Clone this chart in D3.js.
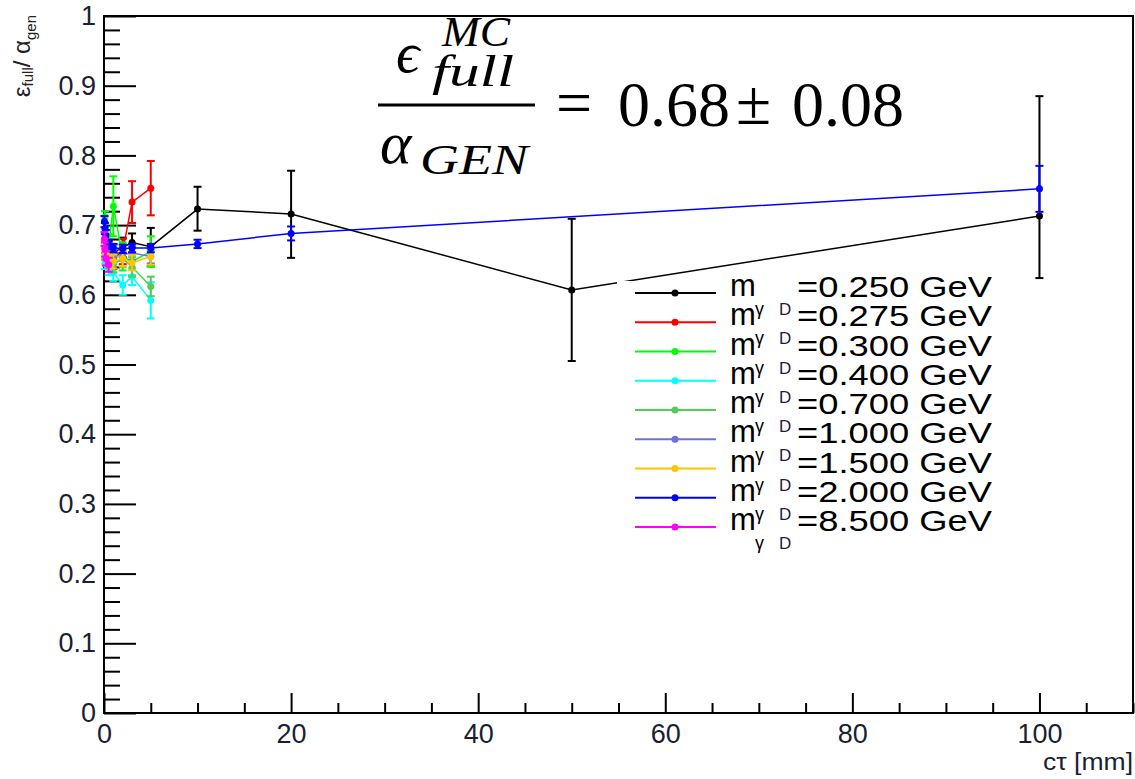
<!DOCTYPE html>
<html>
<head>
<meta charset="utf-8">
<script src="https://cdn.jsdelivr.net/npm/d3@7"></script>
<style>
  body { margin: 0; background: #fff; }
  svg { display: block; }
</style>
</head>
<body>
<svg id="chart" width="1135" height="779"></svg>
<script>
// dark photon mass points (GeV) shown in the legend
const masses = ["0.250", "0.275", "0.300", "0.400", "0.700", "1.000", "1.500", "2.000", "8.500"];
const colors = ["#000000", "#ff0000", "#00ff00", "#00ffff", "#55cc55", "#6f6fdf", "#ffc400", "#0000ff", "#ff00ff"];

// c*tau (mm), eff ratio and errors for each mass
const ctau_0250 = [0.5, 1, 2, 3, 5, 10, 20, 50, 100];
const eff_0250 = [0.665, 0.66, 0.668, 0.675, 0.669, 0.723, 0.716, 0.607, 0.713];
const errLo_0250 = [0.012, 0.013, 0.014, 0.015, 0.028, 0.031, 0.063, 0.102, 0.089];
const errHi_0250 = [0.012, 0.013, 0.014, 0.013, 0.027, 0.032, 0.062, 0.102, 0.172];

const ctau_0275 = [0.5, 1, 2, 3, 5];
const eff_0275 = [0.66, 0.652, 0.662, 0.733, 0.753];
const err_0275 = [0.014, 0.015, 0.018, 0.03, 0.039];

const ctau_0300 = [0.1, 0.5, 1, 2, 3, 5];
const eff_0300 = [0.712, 0.672, 0.727, 0.655, 0.648, 0.662];
const err_0300 = [0.008, 0.015, 0.043, 0.02, 0.02, 0.022];

const ctau_0400 = [0.1, 0.5, 1, 2, 3, 5];
const eff_0400 = [0.645, 0.638, 0.632, 0.614, 0.626, 0.592];
const err_0400 = [0.008, 0.01, 0.012, 0.014, 0.012, 0.026];

const ctau_0700 = [0.1, 0.5, 1, 2, 3, 5];
const eff_0700 = [0.66, 0.648, 0.644, 0.652, 0.64, 0.612];
const err_0700 = [0.01, 0.01, 0.012, 0.012, 0.014, 0.014];

const ctau_1000 = [0.1, 0.5, 1, 2, 3, 5];
const eff_1000 = [0.668, 0.66, 0.662, 0.658, 0.66, 0.655];
const err_1000 = [0.008, 0.008, 0.009, 0.009, 0.01, 0.01];

const ctau_1500 = [0.1, 0.5, 1, 2, 3, 5];
const eff_1500 = [0.662, 0.655, 0.648, 0.652, 0.646, 0.655];
const err_1500 = [0.01, 0.01, 0.01, 0.011, 0.011, 0.012];

const ctau_2000 = [0.05, 0.1, 0.2, 0.5, 1, 2, 3, 5, 10, 20, 100];
const eff_2000 = [0.705, 0.695, 0.685, 0.672, 0.667, 0.666, 0.667, 0.667, 0.673, 0.688, 0.752];
const err_2000 = [0.008, 0.008, 0.008, 0.007, 0.006, 0.006, 0.006, 0.006, 0.006, 0.01, 0.033];

const ctau_8500 = [0.05, 0.1, 0.2, 0.5];
const eff_8500 = [0.68, 0.665, 0.652, 0.643];
const err_8500 = [0.01, 0.01, 0.01, 0.01];

const yTickLabels = ["0", "0.1", "0.2", "0.3", "0.4", "0.5", "0.6", "0.7", "0.8", "0.9", "1"];
const xTickLabels = ["0", "20", "40", "60", "80", "100"];

const series = [
  { x: ctau_0250, y: eff_0250, lo: errLo_0250, hi: errHi_0250 },
  { x: ctau_0275, y: eff_0275, lo: err_0275, hi: err_0275 },
  { x: ctau_0300, y: eff_0300, lo: err_0300, hi: err_0300 },
  { x: ctau_0400, y: eff_0400, lo: err_0400, hi: err_0400 },
  { x: ctau_0700, y: eff_0700, lo: err_0700, hi: err_0700 },
  { x: ctau_1000, y: eff_1000, lo: err_1000, hi: err_1000 },
  { x: ctau_1500, y: eff_1500, lo: err_1500, hi: err_1500 },
  { x: ctau_2000, y: eff_2000, lo: err_2000, hi: err_2000 },
  { x: ctau_8500, y: eff_8500, lo: err_8500, hi: err_8500 },
].map((s, i) => ({
  color: colors[i],
  mass: masses[i],
  points: s.x.map((cx, j) => ({ x: cx, y: s.y[j], lo: s.lo[j], hi: s.hi[j] })),
}));

const svg = d3.select('#chart');
const frameL = 104, frameR = 1133, frameT = 16, frameB = 713;
const sans = 'Liberation Sans, Arial, sans-serif';
const serif = 'Liberation Serif, Times New Roman, serif';

const x = d3.scaleLinear().domain([0, 110]).range([frameL, frameR]);
const y = d3.scaleLinear().domain([0, 1]).range([frameB, frameT]);

// axes, ROOT style: ticks pointing inside the frame
const yMajor = d3.axisLeft(y)
  .tickValues(yTickLabels.map(Number))
  .tickFormat((d, i) => yTickLabels[i])
  .tickSize(-32).tickPadding(8);
const yMinor = d3.axisLeft(y)
  .tickValues(d3.range(0, 1.001, 0.02).filter(v => Math.abs(v * 10 - Math.round(v * 10)) > 1e-6))
  .tickFormat('').tickSize(-16);
const xMajor = d3.axisBottom(x)
  .tickValues(xTickLabels.map(Number))
  .tickFormat((d, i) => xTickLabels[i])
  .tickSize(-20).tickPadding(11);
const xMinor = d3.axisBottom(x)
  .tickValues(d3.range(0, 111, 5).filter(v => v % 20 !== 0))
  .tickFormat('').tickSize(-10);

const gy = svg.append('g').attr('transform', `translate(${frameL},0)`);
gy.call(yMajor);
gy.append('g').call(yMinor);
const gx = svg.append('g').attr('transform', `translate(0,${frameB})`);
gx.call(xMajor);
gx.append('g').call(xMinor);

svg.selectAll('.domain').remove();
svg.selectAll('.tick line').attr('stroke', '#000').attr('stroke-width', 2);
svg.selectAll('.tick text')
  .style('font-family', sans).style('font-size', '27px').attr('fill', '#1a1f33');

// frame
svg.append('rect')
  .attr('x', frameL).attr('y', frameT)
  .attr('width', frameR - frameL).attr('height', frameB - frameT)
  .attr('fill', 'none').attr('stroke', '#000').attr('stroke-width', 2);

// graphs
const line = d3.line().x(d => x(d.x)).y(d => y(d.y));
const graphs = svg.append('g');
series.forEach(s => {
  const g = graphs.append('g');
  g.append('path')
    .datum(s.points)
    .attr('d', line)
    .attr('fill', 'none')
    .attr('stroke', s.color)
    .attr('stroke-width', 1.5);
  const bars = g.selectAll('.err').data(s.points).enter().append('g');
  bars.append('line')
    .attr('x1', d => x(d.x)).attr('x2', d => x(d.x))
    .attr('y1', d => y(d.y - d.lo)).attr('y2', d => y(d.y + d.hi))
    .attr('stroke', s.color).attr('stroke-width', 2);
  bars.append('line')
    .attr('x1', d => x(d.x) - 4).attr('x2', d => x(d.x) + 4)
    .attr('y1', d => y(d.y + d.hi)).attr('y2', d => y(d.y + d.hi))
    .attr('stroke', s.color).attr('stroke-width', 2);
  bars.append('line')
    .attr('x1', d => x(d.x) - 4).attr('x2', d => x(d.x) + 4)
    .attr('y1', d => y(d.y - d.lo)).attr('y2', d => y(d.y - d.lo))
    .attr('stroke', s.color).attr('stroke-width', 2);
  bars.append('circle')
    .attr('cx', d => x(d.x)).attr('cy', d => y(d.y))
    .attr('r', 3.5).attr('fill', s.color);
});

// legend (white box, no border)
const legend = svg.append('g');
legend.append('rect')
  .attr('x', 617).attr('y', 281).attr('width', 385).attr('height', 264)
  .attr('fill', '#fff');
const rowY = i => 293 + i * 29.25;
const rows = legend.selectAll('.row').data(series).enter().append('g');
rows.append('line')
  .attr('x1', 635).attr('x2', 716)
  .attr('y1', (d, i) => rowY(i)).attr('y2', (d, i) => rowY(i))
  .attr('stroke', d => d.color).attr('stroke-width', 2);
rows.append('circle')
  .attr('cx', 675).attr('cy', (d, i) => rowY(i)).attr('r', 3.5)
  .attr('fill', d => d.color);
rows.append('text')
  .attr('x', 730).attr('y', (d, i) => rowY(i) + 3)
  .style('font-family', sans).style('font-size', '31px')
  .text('m');
rows.append('text')
  .attr('x', 755).attr('y', (d, i) => rowY(i) + 22)
  .style('font-family', sans).style('font-size', '18px')
  .text('γ');
rows.append('text')
  .attr('x', 779).attr('y', (d, i) => rowY(i) + 22)
  .style('font-family', sans).style('font-size', '17px')
  .attr('fill', '#2a1a40')
  .text('D');
rows.append('text')
  .attr('x', 797).attr('y', (d, i) => rowY(i) + 4)
  .style('font-family', sans).style('font-size', '30px')
  .attr('textLength', 195).attr('lengthAdjust', 'spacingAndGlyphs')
  .text(d => `=${d.mass} GeV`);

// axis titles
const yTitle = svg.append('text')
  .attr('transform', 'translate(30,15) rotate(-90)')
  .attr('text-anchor', 'end')
  .style('font-family', sans).attr('fill', '#222');
yTitle.append('tspan').style('font-size', '24px').text('ε');
yTitle.append('tspan').style('font-size', '15px').attr('dy', 3).text('full');
yTitle.append('tspan').style('font-size', '24px').attr('dy', -3).text('/ α');
yTitle.append('tspan').style('font-size', '15px').attr('dy', 6).text('gen');

svg.append('text')
  .attr('x', 1133).attr('y', 770)
  .attr('text-anchor', 'end')
  .style('font-family', sans).style('font-size', '23px').attr('fill', '#1a1f33')
  .attr('textLength', 90).attr('lengthAdjust', 'spacingAndGlyphs')
  .text('cτ [mm]');

// formula
const f = svg.append('g').style('font-family', serif).attr('fill', '#000');
f.append('text').attr('x', 396).attr('y', 72).style('font-size', '58px').style('font-style', 'italic').text('ϵ');
f.append('text').attr('x', 442).attr('y', 46).style('font-size', '42px').style('font-style', 'italic')
  .attr('textLength', 68).attr('lengthAdjust', 'spacingAndGlyphs').text('MC');
f.append('text').attr('x', 432).attr('y', 86).style('font-size', '44px').style('font-style', 'italic')
  .attr('textLength', 82).attr('lengthAdjust', 'spacingAndGlyphs').text('full');
f.append('line').attr('x1', 378).attr('x2', 535).attr('y1', 105).attr('y2', 105)
  .attr('stroke', '#000').attr('stroke-width', 3);
f.append('text').attr('x', 380).attr('y', 163).style('font-size', '60px').style('font-style', 'italic').text('α');
f.append('text').attr('x', 420).attr('y', 174).style('font-size', '42px').style('font-style', 'italic')
  .attr('textLength', 108).attr('lengthAdjust', 'spacingAndGlyphs').text('GEN');
f.append('text').attr('x', 556).attr('y', 124).style('font-size', '64px').text('=');
f.append('text').attr('x', 618).attr('y', 126).style('font-size', '64px').text('0.68');
f.append('text').attr('x', 736).attr('y', 124).style('font-size', '64px').text('±');
f.append('text').attr('x', 792).attr('y', 126).style('font-size', '64px').text('0.08');
</script>
</body>
</html>
